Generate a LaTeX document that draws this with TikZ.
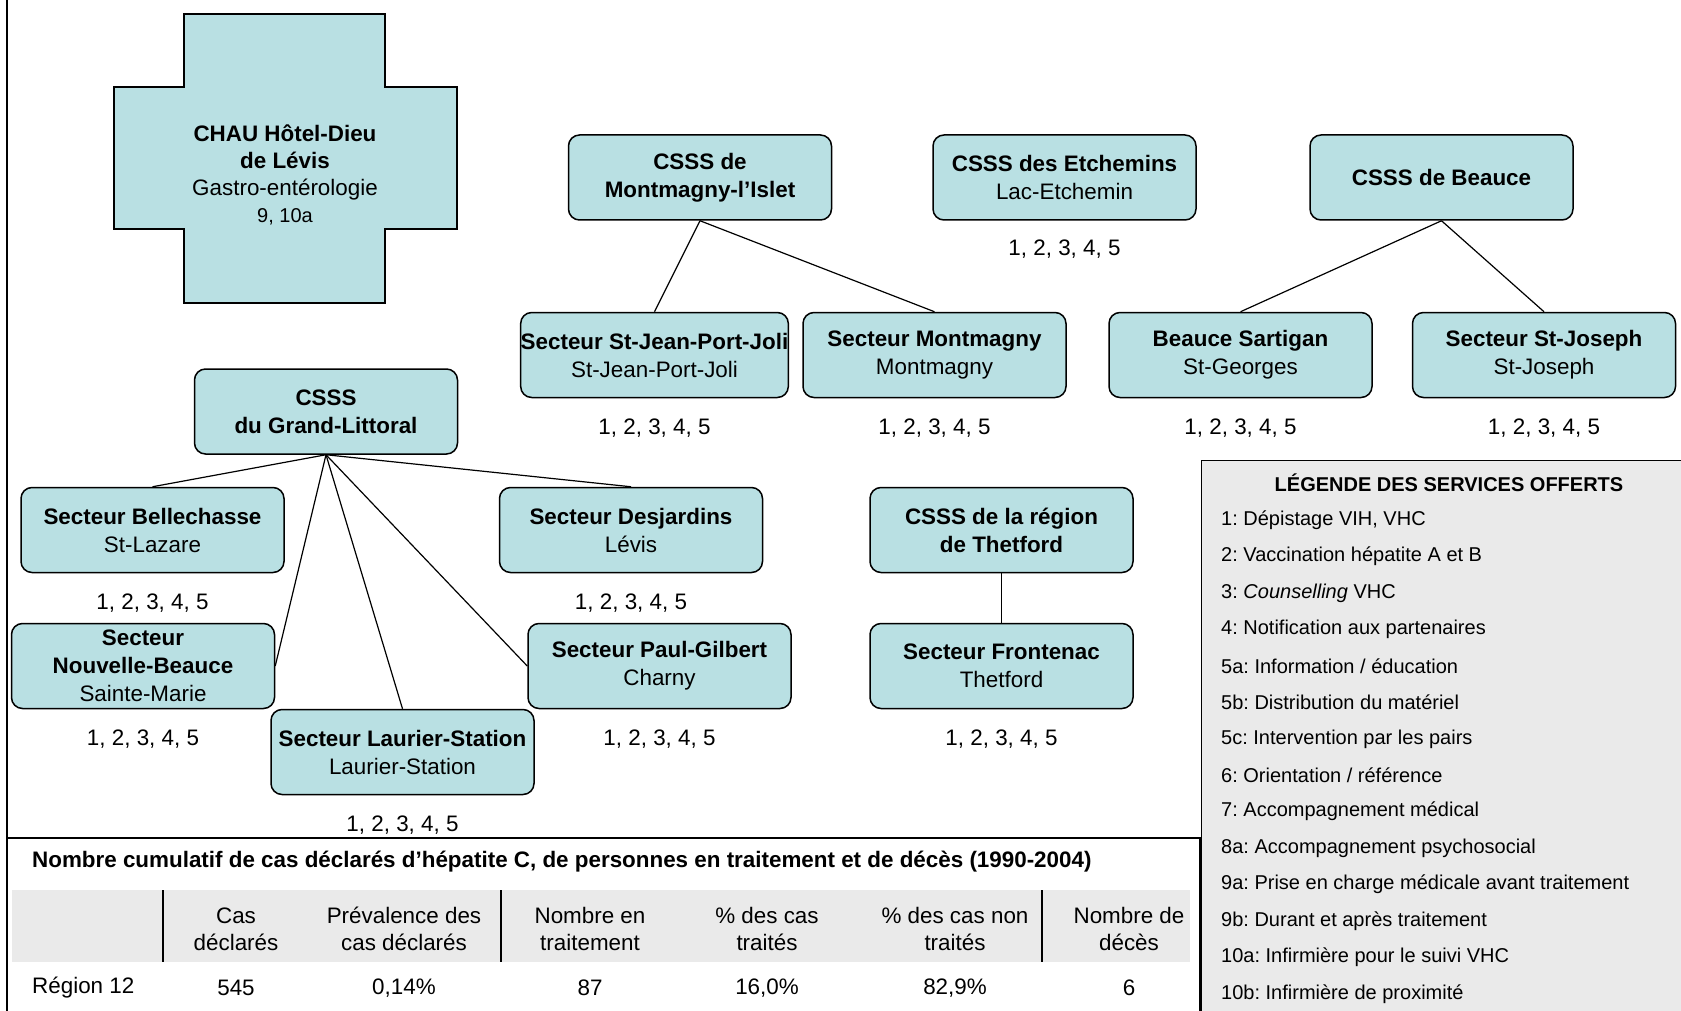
\documentclass[tikz,border=0pt]{standalone}
\usepackage{fontspec}
\setmainfont{Liberation Sans}
\usetikzlibrary{positioning}
\definecolor{boxfill}{RGB}{185,224,227}
\definecolor{leggray}{RGB}{234,234,234}
\frenchspacing

\begin{document}
\begin{tikzpicture}[
  x=1pt, y=-1pt,
  box/.style={draw, rounded corners=11pt, fill=boxfill, line width=1.5pt, align=center,
              minimum width=263pt, minimum height=85pt, inner sep=0pt,
              font=\fontsize{22.4}{28}\selectfont},
  num/.style={inner sep=0pt, font=\fontsize{22.4}{28}\selectfont},
  leg/.style={anchor=west, inner sep=0pt, font=\fontsize{20}{24}\selectfont},
  tab/.style={align=center, inner sep=0pt, font=\fontsize{22.4}{27}\selectfont},
  every edge/.style={draw, line width=1.2pt}
]
\useasboundingbox (0,0) rectangle (1681,1011);

% legend
\draw[fill=leggray, line width=1pt] (1201,460) rectangle (1700,1030);
\node[inner sep=0pt, font=\bfseries\fontsize{20}{24}\selectfont] (legtitle) at (1449,483) {LÉGENDE DES SERVICES OFFERTS};
\node[leg] (l1) at (1221,520) {1: Dépistage VIH, VHC};
\node[leg] (l2) at (1221,556) {2: Vaccination hépatite A et B};
\node[leg] (l3) at (1221,593) {3: \textit{Counselling} VHC};
\node[leg] (l4) at (1221,629) {4: Notification aux partenaires};
\node[leg] (l5a) at (1221,666) {5a: Information / éducation};
\node[leg] (l5b) at (1221,702) {5b: Distribution du matériel};
\node[leg] (l5c) at (1221,739) {5c: Intervention par les pairs};
\node[leg] (l6) at (1221,775) {6: Orientation / référence};
\node[leg] (l7) at (1221,811) {7: Accompagnement médical};
\node[leg] (l8a) at (1221,848) {8a: Accompagnement psychosocial};
\node[leg] (l9a) at (1221,884) {9a: Prise en charge médicale avant traitement};
\node[leg] (l9b) at (1221,921) {9b: Durant et après traitement};
\node[leg] (l10a) at (1221,957) {10a: Infirmière pour le suivi VHC};
\node[leg] (l10b) at (1221,994) {10b: Infirmière de proximité};

% frame and table
\draw[line width=1.5pt] (7,0) -- (7,1011);
\draw[line width=1.5pt] (7,838) -- (1200,838) -- (1200,1011);
\fill[leggray] (12,890) rectangle (1190,962);
\draw[line width=1.6pt] (163,890) -- (163,962) (501,890) -- (501,962) (1042,890) -- (1042,962);
\node[anchor=west, inner sep=0pt, font=\bfseries\fontsize{22.4}{27}\selectfont] (tabtitle) at (32,862)
  {Nombre cumulatif de cas déclarés d’hépatite C, de personnes en traitement et de décès (1990-2004)};
\node[tab] (h1) at (236,929) {Cas\\déclarés};
\node[tab] (h2) at (404,929) {Prévalence des\\cas déclarés};
\node[tab] (h3) at (590,929) {Nombre en\\traitement};
\node[tab] (h4) at (767,929) {\% des cas\\traités};
\node[tab] (h5) at (955,929) {\% des cas non\\traités};
\node[tab] (h6) at (1129,929) {Nombre de\\décès};
\node[tab, anchor=west] (region) at (32,988) {Région 12};
\node[tab] (v1) at (236,988) {545};
\node[tab] (v2) at (404,988) {0,14\%};
\node[tab] (v3) at (590,988) {87};
\node[tab] (v4) at (767,988) {16,0\%};
\node[tab] (v5) at (955,988) {82,9\%};
\node[tab] (v6) at (1129,988) {6};

% hospital cross
\draw[fill=boxfill, line width=1.5pt] (184,14) -- (385,14) -- (385,87) -- (457,87) -- (457,229)
  -- (385,229) -- (385,303) -- (184,303) -- (184,229) -- (114,229) -- (114,87) -- (184,87) -- cycle;
\node[align=center, inner sep=0pt, font=\fontsize{22.4}{27}\selectfont] (chau) at (285,175)
  {\textbf{CHAU Hôtel-Dieu}\\\textbf{de Lévis}\\Gastro-entérologie\\{\fontsize{20}{24}\selectfont 9, 10a}};

% CSSS and sectors
\node[box] (mont) at (700,177.5) {\textbf{CSSS de}\\\textbf{Montmagny-l’Islet}};
\node[box] (etch) at (1064.5,177.5) {\textbf{CSSS des Etchemins}\\Lac-Etchemin};
\node[box] (beauce) at (1441.5,177.5) {\textbf{CSSS de Beauce}};
\node[box] (stjean) at (654.5,355) {\textbf{Secteur St-Jean-Port-Joli}\\St-Jean-Port-Joli};
\node[box] (montm) at (934.5,355) {\textbf{Secteur Montmagny}\\Montmagny};
\node[box] (sartigan) at (1240.5,355) {\textbf{Beauce Sartigan}\\St-Georges};
\node[box] (stjoseph) at (1544,355) {\textbf{Secteur St-Joseph}\\St-Joseph};
\node[box] (grand) at (326,411.5) {\textbf{CSSS}\\\textbf{du Grand-Littoral}};
\node[box] (bellech) at (152.5,530) {\textbf{Secteur Bellechasse}\\St-Lazare};
\node[box] (desj) at (631,530) {\textbf{Secteur Desjardins}\\Lévis};
\node[box] (nbeauce) at (143,666) {\textbf{Secteur}\\\textbf{Nouvelle-Beauce}\\Sainte-Marie};
\node[box] (laurier) at (402.5,752) {\textbf{Secteur Laurier-Station}\\Laurier-Station};
\node[box] (paulg) at (659.5,666) {\textbf{Secteur Paul-Gilbert}\\Charny};
\node[box] (thetford) at (1001.5,530) {\textbf{CSSS de la région}\\\textbf{de Thetford}};
\node[box] (frontenac) at (1001.5,666) {\textbf{Secteur Frontenac}\\Thetford};

% services offered
\node[num, below=19pt of etch] (n-etch) {1, 2, 3, 4, 5};
\node[num, below=20pt of stjean] (n-stjean) {1, 2, 3, 4, 5};
\node[num, below=20pt of montm] (n-montm) {1, 2, 3, 4, 5};
\node[num, below=20pt of sartigan] (n-sartigan) {1, 2, 3, 4, 5};
\node[num, below=20pt of stjoseph] (n-stjoseph) {1, 2, 3, 4, 5};
\node[num, below=20pt of bellech] (n-bellech) {1, 2, 3, 4, 5};
\node[num, below=20pt of desj] (n-desj) {1, 2, 3, 4, 5};
\node[num, below=20pt of nbeauce] (n-nbeauce) {1, 2, 3, 4, 5};
\node[num, below=20pt of laurier] (n-laurier) {1, 2, 3, 4, 5};
\node[num, below=20pt of paulg] (n-paulg) {1, 2, 3, 4, 5};
\node[num, below=20pt of frontenac] (n-frontenac) {1, 2, 3, 4, 5};

\path (mont.south) edge (stjean.north)
      (mont.south) edge (montm.north)
      (beauce.south) edge (sartigan.north)
      (beauce.south) edge (stjoseph.north)
      (grand.south) edge (bellech.north)
      (grand.south) edge (desj.north)
      (grand.south) edge (nbeauce.east)
      (grand.south) edge (laurier.north)
      (grand.south) edge (paulg.west)
      (thetford.south) edge (frontenac.north);
\end{tikzpicture}
\end{document}
